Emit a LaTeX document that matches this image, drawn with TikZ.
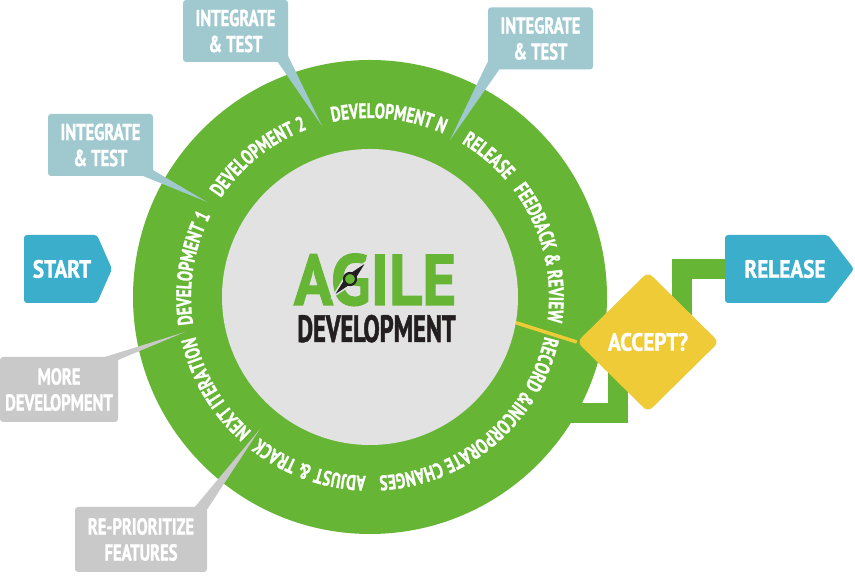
\documentclass[tikz,border=0pt]{standalone}
\usepackage{fontspec}
\setmainfont{PT Sans}
\newfontfamily\cf{PT Sans}[FakeStretch=0.72,BoldFeatures={FakeBold=1.2}]
\newfontfamily\cfw{PT Sans}[FakeStretch=0.85,BoldFeatures={FakeBold=1.2}]
\newfontfamily\cfa{PT Sans}[FakeStretch=0.9,BoldFeatures={FakeBold=1.5}]
\newfontfamily\cfn{PT Sans}[FakeStretch=0.64,BoldFeatures={FakeBold=1.2}]
\usetikzlibrary{decorations.text,shapes.geometric,calc}
\pgfdeclarelayer{bg}
\pgfsetlayers{bg,main}
\definecolor{agreen}{HTML}{66B535}
\definecolor{agray}{HTML}{E1E2E1}
\definecolor{ablue}{HTML}{3BAECB}
\definecolor{cblue}{HTML}{9FC9CF}
\definecolor{cgray}{HTML}{C9C9C9}
\definecolor{ayellow}{HTML}{EECB37}
\definecolor{adark}{HTML}{231F20}
\newcommand\ringstyle{\cf\bfseries\fontsize{21}{21}\selectfont\color{white}}
\newcommand\calloutfont{\cf\bfseries\fontsize{23}{26}\selectfont}
\newcommand\tagfont{\cfw\bfseries\fontsize{25}{25}\selectfont}
\newcommand\agilefont{\cfa\bfseries\fontsize{72}{72}\selectfont}
\newcommand\devfont{\cfn\bfseries\fontsize{38}{38}\selectfont}
\newcommand\ringlabel[3]{\path[shift={(370,280)},ringtxt={#3}] (#1:179) arc[start angle=#1,end angle=#2,radius=179];}
\begin{document}
\begin{tikzpicture}[x=1pt,y=1pt,
  ringtxt/.style={decorate,decoration={text along path,text align=center,text={|\ringstyle|#1}}},
  callb/.style={fill=cblue,rounded corners=3pt,minimum width=105pt,minimum height=62pt,inner sep=0pt,text=white,align=center,font=\calloutfont},
  callg/.style={callb,fill=cgray},
  conn/.style={draw=agreen,line width=20pt},
  tag/.style={text=white,font=\tagfont,inner sep=0pt}]
\useasboundingbox (0,0) rectangle (855,577);
\begin{pgfonlayer}{bg}
  \fill[white] (0,0) rectangle (855,577);
\end{pgfonlayer}

% ring
\node[circle,fill=agreen,minimum size=474pt,inner sep=0pt] (ring) at (370,280) {};
\node[circle,fill=agray,minimum size=296pt,inner sep=0pt] (core) at (370,280) {};

% ring labels (clockwise)
\ringlabel{215.8}{125.8}{DEVELOPMENT 1}
\ringlabel{173.5}{83.5}{DEVELOPMENT 2}
\ringlabel{129}{39}{DEVELOPMENT N}
\ringlabel{95}{5}{RELEASE}
\ringlabel{59.5}{-30.5}{FEEDBACK {\&} REVIEW}
\ringlabel{10.1}{-109.9}{RECORD {\&}INCORPORATE CHANGES}
\ringlabel{-64.7}{-154.7}{ADJUST {\&} TRACK}
\ringlabel{255.7}{165.7}{NEXT ITERATION}

% logo
\node[font=\agilefont,text=agreen,anchor=base,inner sep=0pt] (agile) at (375,272) {AGILE};
\node[font=\devfont,text=adark,anchor=base,inner sep=0pt] (devel) at (376.5,235) {DEVELOPMENT};
\begin{scope}[shift={(350,298)},rotate=46]
  \filldraw[fill=adark,draw=agray,line width=1.5pt] (-25,0) -- (0,5.5) -- (25,0) -- (0,-5.5) -- cycle;
  \filldraw[fill=agreen,draw=adark,line width=2.2pt] (0,0) circle (6);
\end{scope}

% decision
\node[diamond,fill=ayellow,minimum width=142pt,minimum height=140pt,inner sep=0pt,rounded corners=6pt,text=white,font=\tagfont] (acc) at (648,235) {ACCEPT?};
\draw[ayellow,line width=3.5pt] (core.-10.6) -- (acc.west);

% start / release
\fill[ablue,rounded corners=3pt] (24,274) -- (24,342) -- (97,342) -- (112,308) -- (97,274) -- cycle;
\node[tag] (start) at (62,308) {START};
\fill[ablue,rounded corners=3pt] (725,274) -- (725,342) -- (828,342) -- (854,308) -- (828,274) -- cycle;
\node[tag] (rel) at (785,308) {RELEASE};

% connectors
\coordinate (joinpt) at (560,164);
\begin{pgfonlayer}{bg}
  \draw[conn] ([xshift=34pt]acc.center) |- (rel.west);
  \draw[conn] ([xshift=-30pt]acc.center) |- (joinpt);
\end{pgfonlayer}

% callouts
\coordinate (t1) at (322,451);
\coordinate (t2) at (207,375);
\coordinate (t3) at (450,437);
\coordinate (t4) at (185,245);
\coordinate (t5) at (260,148);
\node[callb] (c1) at (235.5,546) {INTEGRATE\\{\&} TEST};
\node[callb] (c2) at (100.5,432) {INTEGRATE\\{\&} TEST};
\node[callb] (c3) at (540.5,538.5) {INTEGRATE\\{\&} TEST};
\node[callg,minimum width=118pt,minimum height=65pt] (c4) at (59,187.5) {MORE\\DEVELOPMENT};
\node[callg,minimum width=132pt,minimum height=65pt] (c5) at (141,37.5) {RE-PRIORITIZE\\FEATURES};
\fill[cblue] ($(c1.south east)+(-11,1)$) -- ($(c1.south east)+(0,6)$) -- (t1) -- cycle;
\fill[cblue] ($(c2.south east)+(-12,1)$) -- ($(c2.south east)+(0,6)$) -- (t2) -- cycle;
\fill[cblue] ($(c3.south west)+(12,1)$) -- ($(c3.south west)+(0,8)$) -- (t3) -- cycle;
\fill[cgray] ($(c4.north east)+(-16,-1)$) -- ($(c4.north east)+(-2,-4)$) -- (t4) -- cycle;
\fill[cgray] ($(c5.north east)+(-13,-1)$) -- ($(c5.north east)+(-1,-4)$) -- (t5) -- cycle;
\end{tikzpicture}
\end{document}
